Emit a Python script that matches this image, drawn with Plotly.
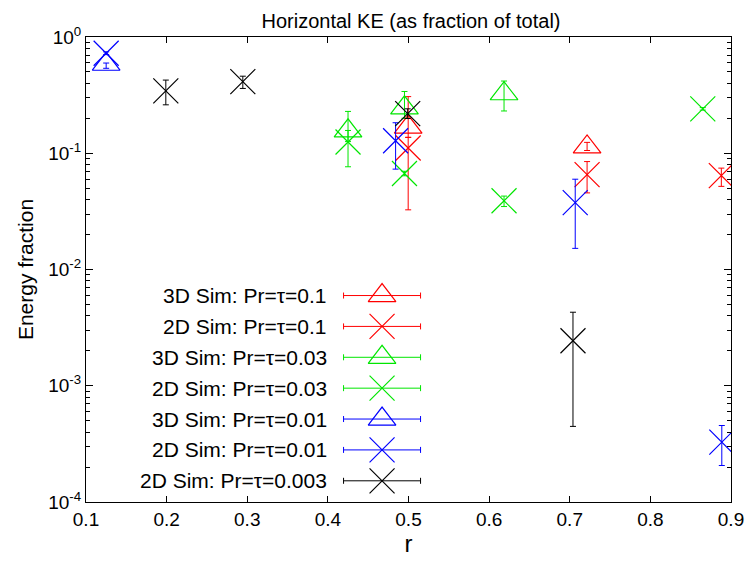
import plotly.graph_objects as go

# ---------------- data ----------------
series_names = [
    "3D Sim: Pr=τ=0.1",
    "2D Sim: Pr=τ=0.1",
    "3D Sim: Pr=τ=0.03",
    "2D Sim: Pr=τ=0.03",
    "3D Sim: Pr=τ=0.01",
    "2D Sim: Pr=τ=0.01",
    "2D Sim: Pr=τ=0.003",
]
series_colors = ["#ff0000", "#ff0000", "#00e600", "#00e600", "#0000ff", "#0000ff", "#000000"]
series_symbols = ["tri", "x", "tri", "x", "tri", "x", "x"]

r_3d_01 = [0.4996, 0.7215]
e_3d_01 = [0.168, 0.1135]
lo_3d_01 = [0.137, 0.1056]
hi_3d_01 = [0.307, 0.124]

r_2d_01 = [0.4996, 0.7215, 0.888]
e_2d_01 = [0.111, 0.0655, 0.0643]
lo_2d_01 = [0.0326, 0.0456, 0.0519]
hi_2d_01 = [0.137, 0.0848, 0.0745]

r_3d_003 = [0.425, 0.495, 0.6185]
e_3d_003 = [0.156, 0.246, 0.325]
lo_3d_003 = [0.126, 0.200, 0.231]
hi_3d_003 = [0.229, 0.340, 0.418]

r_2d_003 = [0.425, 0.495, 0.6185, 0.865]
e_2d_003 = [0.125, 0.067, 0.039, 0.241]
lo_2d_003 = [0.0765, 0.064, 0.0348, 0.235]
hi_2d_003 = [0.157, 0.070, 0.0428, 0.247]

r_3d_001 = [0.125]
e_3d_001 = [0.583]
lo_3d_001 = [0.538]
hi_3d_001 = [0.597]

r_2d_001 = [0.125, 0.484, 0.7068, 0.8886]
e_2d_001 = [0.725, 0.128, 0.0376, 0.000327]
lo_2d_001 = [0.705, 0.073, 0.0152, 0.000206]
hi_2d_001 = [0.745, 0.183, 0.0598, 0.000455]

r_2d_0003 = [0.199, 0.2945, 0.499, 0.704]
e_2d_0003 = [0.344, 0.413, 0.219, 0.00244]
lo_2d_0003 = [0.261, 0.361, 0.199, 0.000447]
hi_2d_0003 = [0.426, 0.460, 0.241, 0.00429]

all_series = [
    (r_3d_01, e_3d_01, lo_3d_01, hi_3d_01),
    (r_2d_01, e_2d_01, lo_2d_01, hi_2d_01),
    (r_3d_003, e_3d_003, lo_3d_003, hi_3d_003),
    (r_2d_003, e_2d_003, lo_2d_003, hi_2d_003),
    (r_3d_001, e_3d_001, lo_3d_001, hi_3d_001),
    (r_2d_001, e_2d_001, lo_2d_001, hi_2d_001),
    (r_2d_0003, e_2d_0003, lo_2d_0003, hi_2d_0003),
]

x_ticks = [0.1, 0.2, 0.3, 0.4, 0.5, 0.6, 0.7, 0.8, 0.9]
y_tick_exps = [-4, -3, -2, -1, 0]

FONT = "Liberation Sans, Arial, Helvetica, sans-serif"
W, H = 756, 561
ML, MR, MT, MB = 86, 20, 37, 49

def marker_for(sym, color):
    if sym == "tri":
        return dict(symbol="triangle-up-open", size=24, color=color,
                    line=dict(color=color, width=1.2))
    return dict(symbol="x-thin-open", size=25, color=color,
                line=dict(color=color, width=1.2))

fig = go.Figure()

for (xs, ys, lo, hi), name, col, sym in zip(all_series, series_names, series_colors, series_symbols):
    fig.add_trace(go.Scatter(
        x=xs, y=ys, mode="markers", name=name, showlegend=False,
        marker=marker_for(sym, col),
        error_y=dict(type="data", symmetric=False,
                     array=[h - y for h, y in zip(hi, ys)],
                     arrayminus=[y - l for l, y in zip(lo, ys)],
                     color=col, thickness=1, width=3),
        xaxis="x", yaxis="y",
    ))

# ---------------- custom gnuplot-style legend (key on the right of text) ----------------
leg_x = 0.459          # fraction of plot width (legend sample centre)
leg_half = 0.0597      # half length of the sample bar
leg_top = 0.444        # fraction of plot height for first row
leg_step = 0.0664
for i, (name, col, sym) in enumerate(zip(series_names, series_colors, series_symbols)):
    yy = leg_top - i * leg_step
    fig.add_trace(go.Scatter(
        x=[leg_x], y=[yy], mode="markers", showlegend=False, hoverinfo="skip",
        marker=marker_for(sym, col),
        error_x=dict(type="constant", value=leg_half, color=col, thickness=1, width=3),
        xaxis="x2", yaxis="y2",
    ))
    fig.add_annotation(x=leg_x - leg_half - 0.0225, y=yy, xref="x2", yref="y2",
                       text=name, showarrow=False, xanchor="right", yanchor="middle",
                       font=dict(family=FONT, size=21, color="black"))

minor_vals = [k * 10 ** e for e in range(-4, 0) for k in range(2, 10)]

fig.update_layout(
    width=W, height=H,
    margin=dict(l=ML, r=MR, t=MT, b=MB),
    paper_bgcolor="white", plot_bgcolor="white",
    showlegend=False,
    font=dict(family=FONT, size=19, color="black"),
    title=dict(text="Horizontal KE (as fraction of total)", x=(ML + (W - MR)) / 2 / W,
               xanchor="center", y=1 - 21 / H, yanchor="middle",
               font=dict(family=FONT, size=20, color="black")),
    xaxis=dict(range=[0.1, 0.9], tickvals=x_ticks, ticktext=[f"{v:.1f}" for v in x_ticks],
               ticks="inside", ticklen=6, tickcolor="black", showline=True, linecolor="black",
               linewidth=1, mirror="allticks", showgrid=False, zeroline=False,
               tickfont=dict(family=FONT, size=19, color="black"),
               title=dict(text="r", font=dict(family=FONT, size=24, color="black"), standoff=2)),
    yaxis=dict(type="log", range=[-4, 0],
               tickvals=[10 ** e for e in y_tick_exps],
               ticktext=[f"10<sup>{e}</sup>" for e in y_tick_exps],
               ticks="inside", ticklen=7, tickcolor="black", showline=True, linecolor="black",
               linewidth=1, mirror="allticks", showgrid=False, zeroline=False,
               minor=dict(tickvals=minor_vals, ticks="inside", ticklen=4, tickcolor="black",
                          showgrid=False),
               tickfont=dict(family=FONT, size=19, color="black"),
               title=dict(text="Energy fraction", font=dict(family=FONT, size=21, color="black"),
                          standoff=8)),
    xaxis2=dict(range=[0, 1], overlaying="x", anchor="y2", visible=False, fixedrange=True),
    yaxis2=dict(range=[0, 1], overlaying="y", anchor="x2", visible=False, fixedrange=True),
)

fig.write_html("out.html")
